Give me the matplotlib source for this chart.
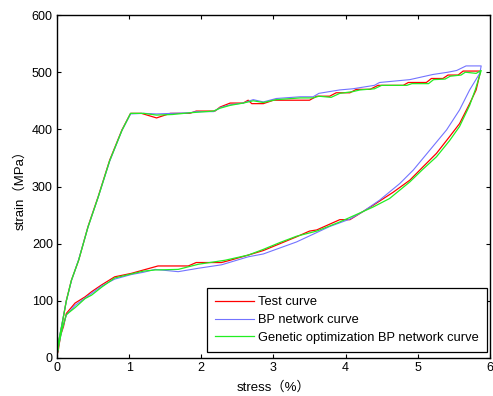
import matplotlib
matplotlib.use('Agg')
import matplotlib.pyplot as plt

plt.rcParams['font.family'] = ['Liberation Sans', 'Noto Sans CJK SC', 'DejaVu Sans']

# Test curve (loading then unloading)
test_x = [0, 0.02, 0.065, 0.13, 0.2, 0.3, 0.43, 0.57, 0.73, 0.9, 1.02, 1.17, 1.38, 1.57, 1.84,
          1.93, 2.19, 2.26, 2.40, 2.58, 2.65, 2.70, 2.86, 3.0, 3.50, 3.60, 3.78, 3.87, 4.06,
          4.15, 4.34, 4.45, 4.80, 4.87, 5.12, 5.19, 5.35, 5.42, 5.56, 5.63, 5.87,
          5.84, 5.81, 5.72, 5.58, 5.44, 5.26, 5.07, 4.89, 4.66, 4.38, 4.06, 3.92, 3.60, 3.50,
          3.32, 3.09, 2.86, 2.65, 2.40, 2.28, 1.93, 1.82, 1.40, 1.2, 1.03, 0.80, 0.62, 0.48,
          0.39, 0.25, 0.13, 0.09, 0.05, 0.02, 0]
test_y = [0, 26, 55, 101, 136, 171, 230, 282, 346, 399, 428, 428, 420, 428, 428,
          432, 432, 439, 446, 446, 451, 445, 445, 451, 451, 458, 458, 464, 464,
          470, 470, 477, 477, 482, 482, 489, 489, 495, 495, 502, 502,
          485, 469, 445, 410, 387, 358, 334, 311, 290, 267, 242, 242, 224, 222,
          212, 200, 188, 180, 171, 167, 167, 161, 161, 154, 148, 142, 128, 116,
          107, 96, 78, 55, 40, 15, 5]

# BP network curve
bp_x = [0, 0.02, 0.065, 0.13, 0.2, 0.3, 0.43, 0.57, 0.73, 0.9, 1.02, 1.2, 1.38, 1.6, 1.84,
        1.93, 2.17, 2.26, 2.40, 2.58, 2.72, 2.86, 3.04, 3.37, 3.55, 3.63, 3.92, 4.10, 4.40,
        4.47, 4.89, 5.21, 5.42, 5.54, 5.67, 5.88,
        5.86, 5.72, 5.58, 5.40, 5.17, 4.94, 4.75, 4.47, 4.24, 4.06, 3.78, 3.32, 2.86, 2.65,
        2.28, 1.96, 1.68, 1.36, 1.2, 1.03, 0.80, 0.62, 0.48, 0.39, 0.25, 0.13, 0.07, 0.02, 0]
bp_y = [0, 28, 57, 100, 135, 172, 229, 281, 344, 398, 427, 428, 427, 428, 429,
        431, 431, 438, 443, 446, 452, 448, 454, 457, 457, 463, 469, 471, 477,
        482, 487, 496, 500, 503, 511, 511,
        498, 469, 434, 399, 364, 329, 305, 276, 256, 243, 230, 203, 182, 177,
        163, 157, 151, 155, 150, 146, 138, 126, 113, 105, 92, 75, 50, 20, 5]

# Genetic optimization BP network curve
ga_x = [0, 0.02, 0.065, 0.13, 0.2, 0.3, 0.43, 0.57, 0.73, 0.9, 1.02, 1.2, 1.38, 1.6, 1.84,
        2.17, 2.26, 2.40, 2.58, 2.72, 2.86, 3.04, 3.37, 3.55, 3.63, 3.80, 3.92, 4.10, 4.20,
        4.40, 4.50, 4.85, 4.92, 5.15, 5.22, 5.38, 5.45, 5.60, 5.66, 5.81, 5.88,
        5.80, 5.72, 5.58, 5.44, 5.26, 5.07, 4.89, 4.61, 4.38, 3.92, 3.60, 3.32, 3.09, 2.86,
        2.65, 2.33, 1.96, 1.68, 1.36, 1.2, 1.03, 0.80, 0.62, 0.48, 0.39, 0.25, 0.13, 0.07,
        0.02, 0]
ga_y = [0, 27, 56, 100, 136, 171, 229, 281, 345, 398, 428, 428, 425, 426, 429,
        432, 437, 442, 446, 450, 447, 452, 455, 455, 458, 456, 463, 466, 469,
        471, 477, 477, 480, 480, 487, 488, 493, 495, 500, 498, 503,
        470, 442, 405, 380, 352, 330, 308, 279, 264, 238, 222, 213, 202, 190,
        180, 171, 164, 155, 154, 152, 147, 140, 124, 110, 104, 88, 76, 50,
        20, 8]

fig = plt.figure(figsize=(4.93, 3.96), dpi=100)
ax = fig.add_axes([0.1156, 0.096, 0.878, 0.866])

ax.plot(test_x, test_y, color='#ff0000', lw=0.9, label='Test curve')
ax.plot(bp_x, bp_y, color='#7373ff', lw=0.8, label='BP network curve')
ax.plot(ga_x, ga_y, color='#22ee22', lw=0.9, label='Genetic optimization BP network curve')

ax.set_xlim(0, 6)
ax.set_ylim(0, 600)
ax.set_xticks(range(0, 7))
ax.set_yticks(range(0, 700, 100))
ax.tick_params(direction='in', length=3, width=0.8, top=True, right=True,
               labelsize=9, pad=3)
for s in ax.spines.values():
    s.set_linewidth(1.0)

ax.set_xlabel('stress（%）', fontsize=9.5, labelpad=5)
ax.set_ylabel('strain（MPa）', fontsize=9.5, labelpad=4)

leg = ax.legend(loc='lower right', bbox_to_anchor=(0.993, 0.0175), borderaxespad=0,
                fontsize=9.3, fancybox=False, framealpha=1, edgecolor='black',
                handlelength=3.0, labelspacing=0.45, borderpad=0.62, handletextpad=0.35)
leg.get_frame().set_linewidth(0.9)

fig.savefig('out.png', dpi=100)
